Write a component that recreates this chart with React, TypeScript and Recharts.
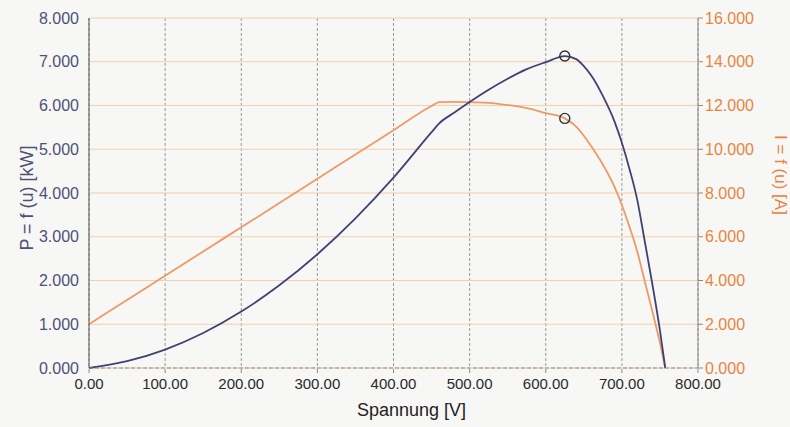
import { LineChart, Line, XAxis, YAxis, CartesianGrid } from "recharts";

// Spannung [V]
const voltage = [0, 50, 100, 150, 200, 250, 300, 350, 400, 450, 460, 480, 500, 525, 550, 575, 600, 625, 640, 650, 660, 675, 690, 700, 710, 720, 730, 740, 750, 757];
// P = f(u) [kW]
const power = [0, 0.156, 0.42, 0.8, 1.29, 1.89, 2.6, 3.42, 4.35, 5.39, 5.59, 5.84, 6.08, 6.36, 6.61, 6.83, 6.99, 7.13, 7.06, 6.9, 6.68, 6.22, 5.65, 5.15, 4.55, 3.86, 2.9, 1.92, 0.86, 0];
// I = f(u) [A]
const current = [2.0, 3.11, 4.22, 5.33, 6.43, 7.54, 8.65, 9.76, 10.87, 11.98, 12.15, 12.17, 12.15, 12.12, 12.02, 11.88, 11.65, 11.41, 11.03, 10.62, 10.12, 9.3, 8.3, 7.45, 6.45, 5.35, 3.97, 2.6, 1.15, 0];

const markerV = 625;
const xTicks = [0, 100, 200, 300, 400, 500, 600, 700, 800];
const pTicks = [0, 1, 2, 3, 4, 5, 6, 7, 8];
const iTicks = [0, 2, 4, 6, 8, 10, 12, 14, 16];

const data = voltage.map((v, i) => ({ v, p: power[i], a: current[i] }));

const BLUE = "#3f4372";
const ORANGE = "#ee9a66";
const LEFT_TXT = "#4d5178";
const RIGHT_TXT = "#e8843e";

const marker = (props: any) => {
  const { cx, cy, payload, index } = props;
  if (payload.v !== markerV) return <g key={index} />;
  return <circle key={index} cx={cx} cy={cy} r={5} fill="none" stroke="#333" strokeWidth={1.4} />;
};

const LeftLabel = ({ viewBox }: any) => {
  const cx = viewBox.x + 10;
  const cy = viewBox.y + viewBox.height / 2 + 5;
  return (
    <text x={cx} y={cy} transform={`rotate(-90 ${cx} ${cy})`} textAnchor="middle" dominantBaseline="central" fill={LEFT_TXT} fontSize={18}>
      P = f (u) [kW]
    </text>
  );
};

const RightLabel = ({ viewBox }: any) => {
  const cx = viewBox.x + 82;
  const cy = viewBox.y + viewBox.height / 2 - 18;
  return (
    <text x={cx} y={cy} transform={`rotate(90 ${cx} ${cy})`} textAnchor="middle" dominantBaseline="central" fill={RIGHT_TXT} fontSize={17}>
      I = f (u) [A]
    </text>
  );
};

const BottomLabel = ({ viewBox }: any) => {
  const cx = viewBox.x + viewBox.width / 2 + 18;
  const cy = viewBox.y + 42;
  return (
    <text x={cx} y={cy} textAnchor="middle" dominantBaseline="central" fill="#222" fontSize={18}>
      Spannung [V]
    </text>
  );
};

export default function App() {
  return (
    <div style={{ background: "#f7f7f5", width: 790, height: 427, fontFamily: "Liberation Sans, Arial, sans-serif" }}>
      <style>{"body { margin: 0; }"}</style>
      <LineChart width={790} height={427} data={data} margin={{ top: 18, right: 0, bottom: 4, left: 17 }}>
        <CartesianGrid yAxisId="left" horizontal={false} stroke="#9a9a9a" strokeDasharray="3 2" />
        <CartesianGrid yAxisId="left" vertical={false} stroke="#f6cfa8" strokeWidth={1.2} />
        <XAxis
          dataKey="v"
          type="number"
          domain={[0, 800]}
          ticks={xTicks}
          tickFormatter={(t: number) => t.toFixed(2)}
          height={55}
          stroke="#8a8a8a"
          strokeDasharray="4 2"
          tickSize={5}
          tickMargin={5}
          tick={{ fill: "#2a2a2a", fontSize: 15 }}
          label={<BottomLabel />}
        />
        <XAxis xAxisId="top" dataKey="v" type="number" domain={[0, 800]} orientation="top" height={0} tick={false} tickLine={false} stroke="#555" />
        <YAxis
          yAxisId="left"
          domain={[0, 8]}
          ticks={pTicks}
          tickFormatter={(t: number) => t.toFixed(3)}
          width={72}
          stroke="#555"
          tickLine={false}
          tickMargin={4}
          tick={{ fill: LEFT_TXT, fontSize: 16 }}
          label={<LeftLabel />}
        />
        <YAxis
          yAxisId="right"
          orientation="right"
          domain={[0, 16]}
          ticks={iTicks}
          tickFormatter={(t: number) => t.toFixed(3)}
          width={92}
          stroke="#8a8a8a"
          tickSize={5}
          tickMargin={2}
          tick={{ fill: RIGHT_TXT, fontSize: 16 }}
          label={<RightLabel />}
        />
        <Line yAxisId="right" dataKey="a" type="monotone" stroke={ORANGE} strokeWidth={1.8} dot={marker} activeDot={false} isAnimationActive={false} />
        <Line yAxisId="left" dataKey="p" type="monotone" stroke={BLUE} strokeWidth={1.8} dot={marker} activeDot={false} isAnimationActive={false} />
      </LineChart>
    </div>
  );
}
